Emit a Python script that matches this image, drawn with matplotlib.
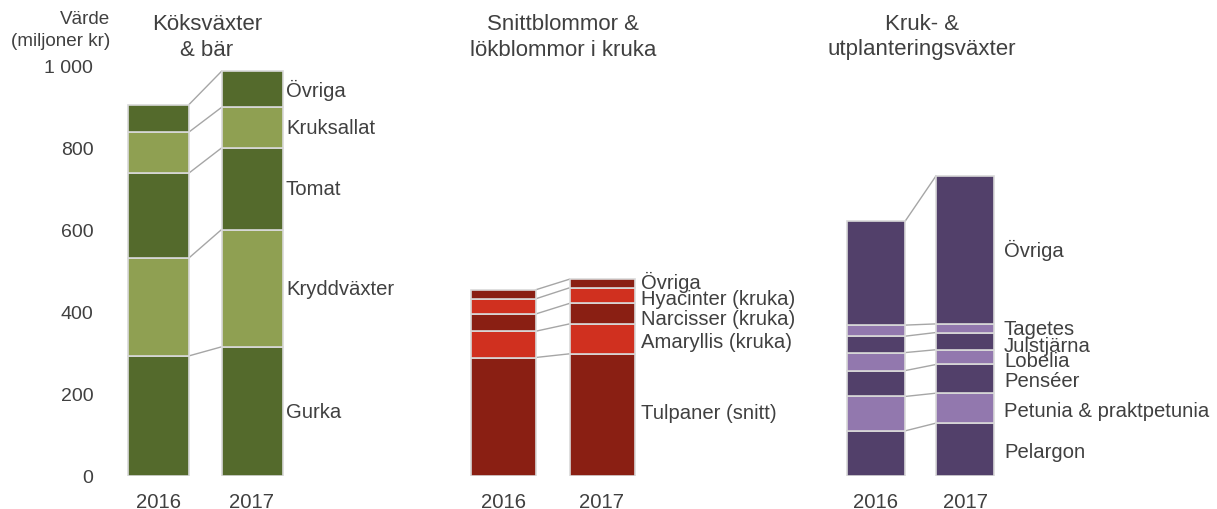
import matplotlib.pyplot as plt
from matplotlib.lines import Line2D

plt.rcParams["font.family"] = ["Liberation Sans", "DejaVu Sans"]

TEXT = "#404040"

YEARS = ["2016", "2017"]
Y_TICKS = [0, 200, 400, 600, 800, 1000]
Y_TICK_LABELS = ["0", "200", "400", "600", "800", "1 000"]

# Köksväxter & bär (miljoner kr)
VEG_LABELS = ["Gurka", "Kryddväxter", "Tomat", "Kruksallat", "Övriga"]
VEG_2016 = [293, 239, 207, 100, 67]
VEG_2017 = [315, 286, 199, 99, 88]

# Snittblommor & lökblommor i kruka
CUT_LABELS = ["Tulpaner (snitt)", "Amaryllis (kruka)", "Narcisser (kruka)",
              "Hyacinter (kruka)", "Övriga"]
CUT_2016 = [289, 64, 42, 37, 22]
CUT_2017 = [298, 73, 50, 38, 21]

# Kruk- & utplanteringsväxter
POT_LABELS = ["Pelargon", "Petunia & praktpetunia", "Penséer", "Lobelia",
              "Julstjärna", "Tagetes", "Övriga"]
POT_2016 = [110, 84, 63, 44, 40, 27, 253]
POT_2017 = [129, 73, 70, 36, 42, 21, 361]

# small vertical nudges of the labels (pixels, positive = down)
VEG_NUDGE = [0, 0, 0, 0, 0]
CUT_NUDGE = [-2, 3, 5, 3, -2]
POT_NUDGE = [2, 2, 2, 3, 4, 0, 0]

GROUPS = [
    dict(title="Köksväxter\n& bär", labels=VEG_LABELS, v16=VEG_2016, v17=VEG_2017,
         nudge=VEG_NUDGE, colors=("#546A2C", "#8FA052"), x=(158.5, 252), w=61,
         tx=207, lx=286),
    dict(title="Snittblommor &\nlökblommor i kruka", labels=CUT_LABELS, v16=CUT_2016,
         v17=CUT_2017, nudge=CUT_NUDGE, colors=("#8A1F13", "#D0301F"), x=(503, 602),
         w=65, tx=563, lx=641),
    dict(title="Kruk- &\nutplanteringsväxter", labels=POT_LABELS, v16=POT_2016,
         v17=POT_2017, nudge=POT_NUDGE, colors=("#52406A", "#9278AE"), x=(876, 965),
         w=58, tx=922, lx=1004),
]

W, H = 1217, 510
fig = plt.figure(figsize=(W / 100, H / 100), dpi=100)
ax_left, ax_bottom, ax_top = 110, 477, 67
ax = fig.add_axes([ax_left / W, (H - ax_bottom) / H, 1 - ax_left / W,
                   (ax_bottom - ax_top) / H])
ax.set_xlim(ax_left, W)
ax.set_ylim(0, 1000)
for sp in ax.spines.values():
    sp.set_visible(False)
ax.set_xticks([])
ax.set_yticks(Y_TICKS)
ax.set_yticklabels(Y_TICK_LABELS, fontsize=14, color=TEXT)
ax.tick_params(axis="y", length=0, pad=12)


def fy(py):
    return (H - py) / H


for g in GROUPS:
    bottoms = []
    for xi, year, vals in zip(g["x"], YEARS, (g["v16"], g["v17"])):
        b = 0
        tops = []
        for i, v in enumerate(vals):
            ax.bar(xi, v, width=g["w"], bottom=b, color=g["colors"][i % 2],
                   edgecolor="#D9D9D9", linewidth=1.2, zorder=2)
            b += v
            tops.append(b)
        bottoms.append(tops)
        ax.text(xi, -61, year, ha="center", va="center",
                fontsize=14.6, color=TEXT, clip_on=False)
    # connectors between segment tops
    x0 = g["x"][0] + g["w"] / 2
    x1 = g["x"][1] - g["w"] / 2
    for t16, t17 in zip(bottoms[0], bottoms[1]):
        ax.add_line(Line2D([x0, x1], [t16, t17], color="#A6A6A6", lw=1.0, zorder=1))
    # category labels, centred on 2017 segments
    b = 0
    for lab, v, dy in zip(g["labels"], g["v17"], g["nudge"]):
        ax.annotate(lab, (g["lx"], b + v / 2), xytext=(0, -dy),
                    textcoords="offset pixels", ha="left", va="center",
                    fontsize=14.6, color=TEXT)
        b += v
    t1, t2 = g["title"].split("\n")
    fig.text(g["tx"] / W, fy(25), t1, ha="center", va="center", fontsize=16, color=TEXT)
    fig.text(g["tx"] / W, fy(50), t2, ha="center", va="center", fontsize=16, color=TEXT)

fig.text(110 / W, fy(20), "Värde", ha="right", va="center", fontsize=13.6, color=TEXT)
fig.text(110 / W, fy(41), "(miljoner kr)", ha="right", va="center", fontsize=13.6,
         color=TEXT)

fig.savefig("out.png", dpi=100)
